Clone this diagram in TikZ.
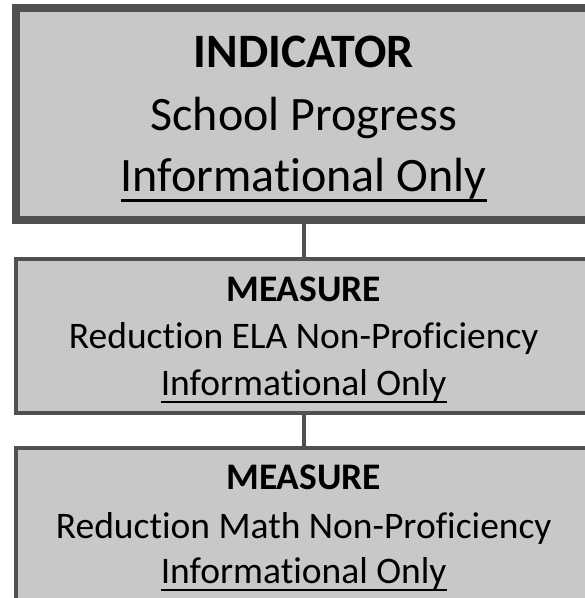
\documentclass[tikz,border=0pt]{standalone}
\usepackage{fontspec}
\setmainfont{Carlito}[RawFeature={-liga}]
\definecolor{boxfill}{HTML}{C8C8C8}
\definecolor{boxline}{HTML}{505050}
\newcommand{\myul}[1]{\setbox0=\hbox{#1}\rlap{\rule[-0.2em]{\wd0}{0.058em}}\box0}
\begin{document}
\begin{tikzpicture}[x=1pt,y=1pt,
  box/.style={rectangle,draw=boxline,fill=boxfill,minimum width=575.4pt,inner sep=0pt},
  link/.style={draw=boxline,line width=4pt},
  bigtxt/.style={anchor=base,inner sep=0pt,font=\fontsize{48}{52}\selectfont},
  smalltxt/.style={anchor=base,inner sep=0pt,font=\fontsize{37.5}{40}\selectfont}]
\useasboundingbox (0,0) rectangle (585,598);
\clip (0,0) rectangle (585,598);
\node[box,line width=8pt,minimum height=211.7pt] (top) at (303.7,484.15) {};
\node[box,line width=4pt,minimum height=153.7pt] (mid) at (303.7,261.85) {};
\node[box,line width=4pt,minimum height=153.7pt] (bot) at (303.7,73.45) {};
\draw[link] (top.south) -- (mid.north);
\draw[link] (mid.south) -- (bot.north);
\node[bigtxt] (t1) at (303.7,530.3) {\bfseries INDICATOR};
\node[bigtxt] (t2) at (303.7,467.3) {School Progress};
\node[bigtxt] (t3) at (303.7,406) {\myul{Informational Only}};
\node[smalltxt] (m1) at (303.7,296.3) {\bfseries MEASURE};
\node[smalltxt] (m2) at (303.7,249) {Reduction ELA Non-Proficiency};
\node[smalltxt] (m3) at (303.7,202.5) {\myul{Informational Only}};
\node[smalltxt] (b1) at (303.7,108) {\bfseries MEASURE};
\node[smalltxt] (b2) at (303.7,59.7) {Reduction Math Non-Proficiency};
\node[smalltxt] (b3) at (303.7,14.7) {\myul{Informational Only}};
\end{tikzpicture}
\end{document}
